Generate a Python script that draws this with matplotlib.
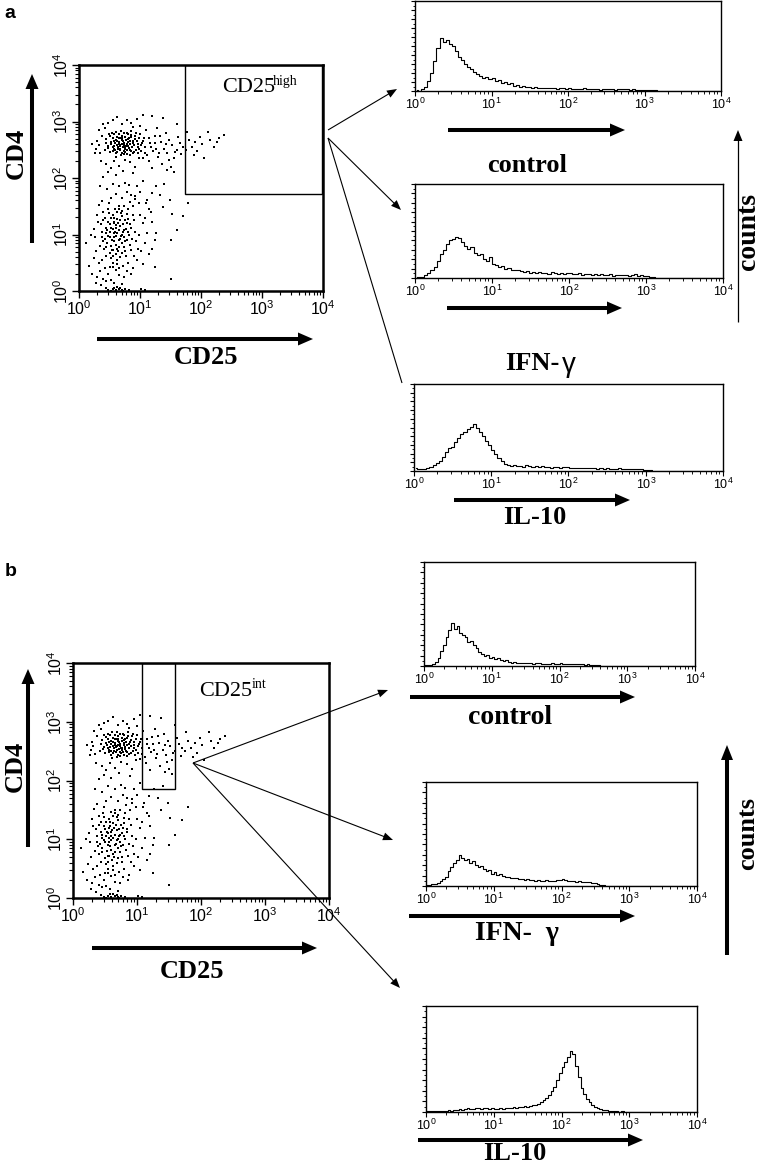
import numpy as np
import matplotlib
matplotlib.use('Agg')
import matplotlib.pyplot as plt
from matplotlib.patches import Rectangle, Polygon
from matplotlib.ticker import LogLocator, NullFormatter, LogFormatterSciNotation, MultipleLocator

# ---------------- data (log10 fluorescence: CD25, CD4) ----------------
cd4hi_core = [(0.62,2.58),(0.70,2.61),(0.75,2.55),(0.68,2.70),(0.80,2.64),(0.57,2.52),(0.85,2.72),(0.73,2.48),(0.66,2.77),(0.90,2.58),
 (0.52,2.63),(0.78,2.80),(0.95,2.66),(0.60,2.44),(0.83,2.50),(0.71,2.68),(0.64,2.55),(0.88,2.45),(0.76,2.73),(0.55,2.70),
 (0.48,2.57),(0.99,2.52),(0.69,2.40),(0.81,2.57),(0.58,2.78),(0.92,2.75),(0.74,2.62),(0.67,2.49),(1.03,2.62),(0.50,2.46),
 (0.86,2.83),(0.63,2.66),(0.79,2.43),(0.72,2.54),(0.97,2.44),(0.45,2.69),(0.61,2.38),(0.84,2.61),(1.06,2.71),(0.54,2.80),
 (0.77,2.67),(0.65,2.60),(0.89,2.66),(0.70,2.75),(0.59,2.62),(0.93,2.50),(0.82,2.70),(0.68,2.52),(1.00,2.78),(0.47,2.53),
 (0.75,2.46),(0.62,2.72),(0.87,2.55),(0.73,2.58),(0.56,2.48),(0.96,2.61),(0.80,2.77),(0.66,2.64),(1.08,2.55),(0.51,2.74),
 (0.84,2.41),(0.69,2.83),(0.58,2.57),(0.91,2.69),(0.76,2.52),(0.63,2.46),(1.02,2.47),(0.44,2.62),(0.79,2.60),(0.71,2.71),
 (0.94,2.80),(0.60,2.67),(0.85,2.48),(0.67,2.57),(0.53,2.60),(0.98,2.70),(0.74,2.79),(0.88,2.62),(0.64,2.51),(0.77,2.56),
 (0.42,2.50),(0.57,2.66),(0.82,2.53),(0.70,2.44),(1.05,2.66),(0.61,2.82),(0.90,2.46),(0.72,2.65),(0.55,2.55),(0.86,2.76),
 (0.68,2.59),(0.78,2.49),(0.96,2.55),(0.49,2.77),(0.65,2.70),(0.83,2.66),(0.73,2.42),(1.01,2.58),(0.59,2.50),(0.80,2.69)]
cd4hi_edge = [(0.22,2.60),(0.30,2.66),(0.35,2.45),(0.28,2.52),(0.38,2.75),(0.33,2.85),(0.40,2.95),(0.55,3.02),(0.62,3.08),(0.48,2.98),
 (0.70,2.95),(0.85,2.97),(0.95,3.05),(1.05,3.12),(1.20,3.10),(1.38,3.06),(1.60,2.95),(0.78,3.02),(0.36,2.30),(0.45,2.25),
 (0.52,2.18),(0.58,2.30),(0.66,2.22),(0.75,2.32),(0.84,2.28),(0.92,2.20),(0.60,2.05),(0.48,2.10),(0.72,2.12),(0.40,2.02),
 (1.12,2.40),(1.18,2.55),(1.15,2.70),(1.22,2.48),(1.25,2.62),(1.30,2.38),(1.33,2.75),(1.40,2.52),(1.45,2.44),(1.48,2.68),
 (1.52,2.58),(1.55,2.35),(1.60,2.50),(1.65,2.62),(1.68,2.42),(1.10,2.85),(1.28,2.88),(1.42,2.80),(1.14,2.30),(1.36,2.25),
 (1.20,2.18),(1.50,2.20),(1.05,2.36),(1.62,2.72),(1.70,2.55),(0.26,2.44),(0.32,2.58),(0.43,2.88),(0.88,2.90),(1.00,2.92),
 (1.57,2.46),(1.47,2.32),(1.27,2.52),(1.35,2.64),(1.16,2.62),(1.08,2.45),(1.24,2.74),(1.43,2.60),(0.98,2.35),(1.31,2.45)]
cd25hi_tail = [(1.77,2.82),(1.85,2.55),(1.90,2.64),(1.99,2.73),(2.05,2.35),(2.12,2.82),(2.15,2.67),(2.21,2.55),(2.26,2.64),(2.37,2.76),
 (1.93,2.47),(1.80,2.68),(2.02,2.60),(1.88,2.40),(2.30,2.70),(1.75,2.50)]
bridge = [(1.00,1.76),(1.11,1.61),(1.27,1.85),(1.38,1.49),(1.49,1.61),(1.52,1.37),(1.71,1.32),(1.79,1.55),(1.27,1.02),(1.50,0.90),
 (1.25,0.43),(1.50,0.22),(1.60,1.08),(0.89,2.08),(0.95,1.85),(1.19,1.73),(1.44,2.14),(1.55,2.11),(1.05,1.95),(0.92,1.68),
 (1.15,1.45),(1.33,1.70),(1.08,1.30),(1.20,1.22),(0.98,1.55),(1.40,1.90)]
cd4lo_core = [(0.55,1.10),(0.62,1.02),(0.68,1.15),(0.48,0.98),(0.72,1.05),(0.58,1.22),(0.65,0.90),(0.52,1.30),(0.78,1.20),(0.44,1.12),
 (0.60,0.82),(0.70,1.32),(0.82,1.00),(0.40,1.25),(0.66,1.08),(0.57,0.95),(0.75,0.88),(0.50,1.18),(0.63,1.40),(0.85,1.12),
 (0.46,0.85),(0.69,0.98),(0.54,0.72),(0.80,1.28),(0.38,1.05),(0.61,1.16),(0.73,0.78),(0.49,1.38),(0.87,0.92),(0.59,1.05),
 (0.42,0.92),(0.67,1.25),(0.55,0.62),(0.77,1.10),(0.64,0.70),(0.51,1.05),(0.90,1.25),(0.36,1.18),(0.71,1.42),(0.58,0.88),
 (0.83,0.82),(0.47,1.45),(0.62,1.28),(0.74,0.96),(0.53,0.80),(0.68,0.60),(0.45,1.02),(0.79,1.36),(0.60,1.12),(0.92,1.05),
 (0.39,0.88),(0.56,1.35),(0.70,0.85),(0.65,1.50),(0.50,0.68),(0.84,1.18),(0.43,1.30),(0.76,0.70),(0.57,1.02),(0.63,0.55),
 (0.81,1.45),(0.48,1.22),(0.72,1.18),(0.54,0.90),(0.66,0.78),(0.41,0.75),(0.88,1.35),(0.59,1.46),(0.74,1.08),(0.52,0.58),
 (0.69,1.38),(0.46,1.08),(0.61,0.65),(0.86,0.72),(0.57,1.20),(0.78,0.90),(0.37,0.95),(0.64,1.20),(0.50,0.95),(0.73,1.50),
 (0.94,0.88),(0.55,0.50),(0.67,0.92),(0.44,0.62),(0.80,1.05),(0.62,0.75),(0.49,1.55),(0.71,0.68),(0.58,1.30),(0.83,1.58),
 (0.40,1.40),(0.66,1.45),(0.53,1.12),(0.77,0.62),(0.60,0.98),(0.89,1.50),(0.45,0.78),(0.70,1.00),(0.56,0.72),(0.75,1.25)]
cd4lo_edge = [(0.12,0.85),(0.25,1.10),(0.28,0.70),(0.30,1.35),(0.32,0.50),(0.26,0.95),(0.30,0.25),(0.22,0.30),(0.28,0.15),(0.35,0.35),
 (0.42,0.40),(0.48,0.30),(0.52,0.20),(0.60,0.38),(0.66,0.28),(0.72,0.45),(0.58,0.15),(0.45,0.18),(0.38,0.55),(0.80,0.50),
 (0.88,0.40),(0.95,0.55),(1.02,0.70),(1.08,0.85),(1.12,1.02),(1.15,0.65),(1.05,1.20),(0.98,1.00),(1.00,1.35),(0.96,0.75),
 (0.92,1.62),(0.85,1.70),(0.78,1.75),(0.70,1.65),(0.60,1.72),(0.52,1.65),(0.46,1.80),(0.38,1.60),(0.33,1.52),(0.35,1.85),
 (0.55,1.90),(0.65,1.85),(0.75,1.92),(0.82,1.88),(1.18,1.40),(1.10,1.55),(0.24,0.58),(0.34,0.80),(0.31,1.22),(0.20,1.00),
 (0.66,0.40),(0.74,0.25),(0.86,0.30),(0.55,0.42),(0.40,0.22),(0.62,0.48),(0.78,0.35),(0.50,0.42),(1.05,0.48),(0.90,0.62),
 (1.25,0.90),(1.20,0.75),(0.16,0.45),(0.36,0.10),(0.70,0.12)]
floor_events = [(0.48,0.02),(0.55,0.04),(0.60,0.01),(0.65,0.03),(0.70,0.02),(0.75,0.04),(0.58,0.06),(0.68,0.05),(0.82,0.02),(1.02,0.03),
 (1.08,0.01),(0.44,0.05),(0.52,0.00),(0.62,0.07),(0.72,0.00)]

gate_high = [1.73, 3.99, 1.72, 3.995]   # log10 CD25 lo/hi, CD4 lo/hi
gate_int = [1.08, 1.59, 1.855, 3.995]

# histogram counts (% of scale) on 0.04-decade channels from 10^0 to 10^4
a_control = [1,0.5,2,5,11,20,33,48,59,55, 57,52,50,44,38,34,30,27,25,21, 19,17,15,16,13,14,11,12,9,10,
 8,8.5,6,7,5,5.5,4,4.5,3.5,4, 3,3.5,3,3.8,2.8,3.2,2.5,3,2.8,2.2, 3,2.5,2,2.6,2.2,2.8,2.0,2.4,1.8,2.2,
 1.6,2.0,2.3,1.8,2.1,1.6,1.9,2.2,1.7,2.0, 1.5,1.8,1.4,1.6,1.2,1.4,1.0,1.2,0.8,0.5, 0.3,0.2,0,0,0,0,0,0,0,0,
 0,0,0,0,0,0,0,0,0,0]
a_ifng = [1,1,1.5,3,5,8,12,18,26,30, 36,40,42,44,43,38,34,31,33,27, 25,26,20,18,22,15,14,12,13,10,
 11,9,8,9,7,6,7,5.5,6,5, 6,5,5.5,4.5,6,5,4.5,5.5,4,5, 5.5,4.5,4,5,3.5,4.5,4,3.5,4.5,3,
 4,3.5,3,4,2.5,3.5,3,2.8,3.5,2.5, 3,3.8,2.5,3,2,2.5,1.5,1,0.5,0.3, 0,0,0,0,0,0,0,0,0,0,
 0,0,0,0,0,0,0,0,0,0]
a_il10 = [3,2.5,2,2.5,3,5,7,9,12,16, 22,26,28,33,38,43,45,48,51,54, 50,45,40,34,30,24,20,15,11,8,
 7,6,6.5,5.5,6,5,6.5,5.5,5,6, 5,5.5,4.5,5,4,5,4.5,4,5,4.5, 3.5,4,3.5,4,3,3.5,3.8,3,3.2,2.8,
 3,2.5,3.2,2.6,2.8,2.2,3,2.4,2.2,2.6, 2,2.4,2.8,2,1.6,1.2,0.8,0.4,0.2,0, 0,0,0,0,0,0,0,0,0,0,
 0,0,0,0,0,0,0,0,0,0]
b_control = [0.5,1,1,2,4,8,14,20,28,35, 41,36,38,32,30,28,23,24,20,17, 13,12,10,11,8,9,7,8,6,5,
 5.5,4,3,3.5,3,3.2,2.5,3,2.8,2.5, 2.2,2.8,2.5,2,2.4,2.2,1.8,2.6,2,2.2, 2.5,2,1.8,2.3,1.6,2,1.8,1.5,1.8,1.4,
 1.6,1.2,1.4,1.0,0.5,0.3,0.2,0,0,0, 0,0,0,0,0,0,0,0,0,0, 0,0,0,0,0,0,0,0,0,0,
 0,0,0,0,0,0,0,0,0,0]
b_ifng = [1,1,1.5,2,3,5,7,9,14,18, 22,25,30,27,25,26,22,24,20,18, 19,16,14,15,12,13,11,12,10,9,
 9,8,7.5,8,6.5,7,6,6.5,5.5,6, 5,5.5,5,4.5,5.5,5,4.5,5,5.5,6, 6.5,5.5,5,4.5,5,4,4.5,4,3.5,4,
 3.5,3,2.5,2,1,0.5,0,0,0,0, 0,0,0,0,0,0,0,0,0,0, 0,0,0,0,0,0,0,0,0,0,
 0,0,0,0,0,0,0,0,0,0]
b_il10 = [1,0.5,1,0.5,1,0.8,1,0.5,1.5,1, 2,1.5,2.5,2,3,3.5,2.5,3,4,3.5, 3,3.5,4,3,3.5,2.5,3,3.5,3,3.5,
 4,3.5,4.5,4,5,4.5,5.5,5,6,6.5, 7,8,9,11,13,16,20,24,30,37, 42,47,52,58,55,43,33,23,17,12,
 9,7,5,4,2.5,2,1.5,1,0.8,0.5, 0.5,0.3,0.5,0.3,0.2,0.3,0.2,0.2,0.3,0.2, 0.2,0.2,0.2,0.2,0.2,0.2,0.2,0.2,0.2,0.2,
 0.2,0.2,0.2,0.2,0.2,0.2,0.2,0.2,0.2,0.2]

# ---------------- figure ----------------
W, H = 761, 1166
plt.rcParams['font.family'] = ['Liberation Sans', 'DejaVu Sans']
fig = plt.figure(figsize=(W / 100, H / 100), dpi=100)
SERIF = ['Liberation Serif', 'DejaVu Serif']


def px_axes(l, t, r, b):
    return fig.add_axes([l / W, 1 - b / H, (r - l) / W, (b - t) / H])


events = cd4hi_core + cd4hi_edge + cd25hi_tail + bridge + cd4lo_core + cd4lo_edge + floor_events
cd25 = 10 ** np.array([e[0] for e in events])
cd4 = 10 ** np.array([e[1] for e in events])


def log_axis_setup(ax, labelsize, major_len, minor_len, width):
    for axis in (ax.xaxis, ax.yaxis):
        axis.set_major_locator(LogLocator(base=10, numticks=10))
        axis.set_minor_locator(LogLocator(base=10, subs=np.arange(2, 10), numticks=10))
        axis.set_minor_formatter(NullFormatter())
        axis.set_major_formatter(LogFormatterSciNotation())
    ax.tick_params(which='major', direction='out', length=major_len, width=width, labelsize=labelsize, pad=1)
    ax.tick_params(which='minor', direction='out', length=minor_len, width=width * 0.8)


def dot_plot(box, gate):
    ax = px_axes(*box)
    ax.scatter(cd25, cd4, s=3.2, marker='s', c='k', linewidths=0)
    ax.set_xscale('log')
    ax.set_yscale('log')
    ax.set_xlim(1, 1e4)
    ax.set_ylim(1, 1e4)
    log_axis_setup(ax, 11.5, 5, 3, 1.0)
    ax.tick_params(axis='y', labelrotation=90)
    plt.setp(ax.get_yticklabels(), va='center')
    for s in ax.spines.values():
        s.set_linewidth(1.8)
    x0, x1, y0, y1 = [10 ** v for v in gate]
    ax.add_patch(Rectangle((x0, y0), x1 - x0, y1 - y0, fill=False, lw=1.0, ec='k'))
    return ax


def histo(box, counts):
    ax = px_axes(*box)
    centres = 10 ** (0.02 + 0.04 * np.arange(len(counts)))
    ax.step(centres, counts, where='mid', color='k', lw=0.8)
    ax.set_xscale('log')
    ax.set_xlim(1, 1e4)
    ax.set_ylim(0, 100)
    log_axis_setup(ax, 9, 3.5, 2, 0.8)
    ax.yaxis.set_major_locator(MultipleLocator(10))
    ax.yaxis.set_minor_locator(MultipleLocator(5))
    ax.yaxis.set_major_formatter(NullFormatter())
    ax.tick_params(axis='y', which='major', length=3)
    ax.tick_params(axis='y', which='minor', length=1.5)
    for s in ax.spines.values():
        s.set_linewidth(1.0)
    return ax


dot_plot((79, 65, 323, 291), gate_high)
dot_plot((73, 663, 329, 898), gate_int)

histo((415, 1, 721, 91), a_control)
histo((415, 184, 723, 278), a_ifng)
histo((414, 384, 723, 471), a_il10)
histo((424, 562, 695, 666), b_control)
histo((426, 782, 697, 886), b_ifng)
histo((426, 1006, 697, 1112), b_il10)

# ---------------- annotation overlay (pixel coordinates) ----------------
ov = fig.add_axes([0, 0, 1, 1], zorder=10)
ov.set_xlim(0, W)
ov.set_ylim(H, 0)
ov.axis('off')
ov.patch.set_alpha(0)


def arrow(x0, y0, x1, y1, lw, hl, hw, head=True):
    dx, dy = x1 - x0, y1 - y0
    L = np.hypot(dx, dy)
    ux, uy = dx / L, dy / L
    if not head:
        ov.plot([x0, x1], [y0, y1], color='k', lw=lw, solid_capstyle='butt')
        return
    bx, by = x1 - ux * hl, y1 - uy * hl
    ov.plot([x0, bx + ux], [y0, by + uy], color='k', lw=lw, solid_capstyle='butt')
    px, py = -uy, ux
    ov.add_patch(Polygon([[x1, y1], [bx + px * hw, by + py * hw], [bx - px * hw, by - py * hw]],
                         closed=True, fc='k', ec='none'))


def label(x, y, s, size, rot=0, family=SERIF, weight='bold', ha='center', va='center'):
    ov.text(x, y, s, fontsize=size, rotation=rot, family=family, weight=weight, ha=ha, va=va)


THICK = 2.9
# panel a
label(10, 14, 'a', 14, family=['Liberation Sans'], weight='bold')
arrow(32, 243, 32, 74, THICK, 15, 6.5)
label(16, 153, 'CD4', 19, rot=90)
arrow(97, 339, 313, 339, THICK, 15, 6.5)
label(206, 358, 'CD25', 19)
label(222, 92, 'CD25', 16, weight='normal', ha='left', va='baseline')
label(273, 85, 'high', 10, weight='normal', ha='left', va='baseline')
arrow(328, 130, 397, 89, 0.8, 10, 4)
arrow(328, 138, 401, 210, 0.8, 10, 4)
arrow(328, 138, 402, 383, 0.8, 0, 0, head=False)
arrow(448, 130, 625, 130, THICK, 15, 6.5)
label(527, 165, 'control', 19)
arrow(447, 308, 622, 308, THICK, 15, 6.5)
ov.text(560, 363, 'IFN-', fontsize=19, family=SERIF, weight='bold', ha='right', va='center')
ov.text(562, 365, 'γ', fontsize=20, family=['Liberation Sans', 'DejaVu Sans'], ha='left', va='center')
arrow(454, 500, 630, 500, THICK, 15, 6.5)
label(535, 517, 'IL-10', 19)
arrow(738, 322, 738, 130, 0.9, 11, 4.5)
label(749, 232, 'counts', 20, rot=90)

# panel b
label(11, 571, 'b', 14, family=['Liberation Sans'], weight='bold')
arrow(28, 847, 28, 669, THICK, 15, 6.5)
label(15, 766, 'CD4', 19, rot=90)
arrow(92, 948, 317, 948, THICK, 15, 6.5)
label(192, 972, 'CD25', 19)
label(199, 696, 'CD25', 16, weight='normal', ha='left', va='baseline')
label(252, 688, 'int', 10, weight='normal', ha='left', va='baseline')
arrow(193, 763, 388, 690, 0.8, 10, 4)
arrow(193, 763, 393, 840, 0.8, 10, 4)
arrow(193, 763, 400, 988, 0.8, 10, 4)
arrow(410, 697, 635, 697, THICK, 15, 6.5)
label(510, 717, 'control', 20)
arrow(409, 916, 635, 916, THICK, 15, 6.5)
label(517, 934, 'IFN-  γ', 20)
arrow(418, 1140, 643, 1140, THICK, 15, 6.5)
label(515, 1154, 'IL-10', 19)
arrow(727, 955, 727, 745, THICK, 15, 6)
label(748, 833, 'counts', 19, rot=90)

fig.savefig('out.png', dpi=100)
